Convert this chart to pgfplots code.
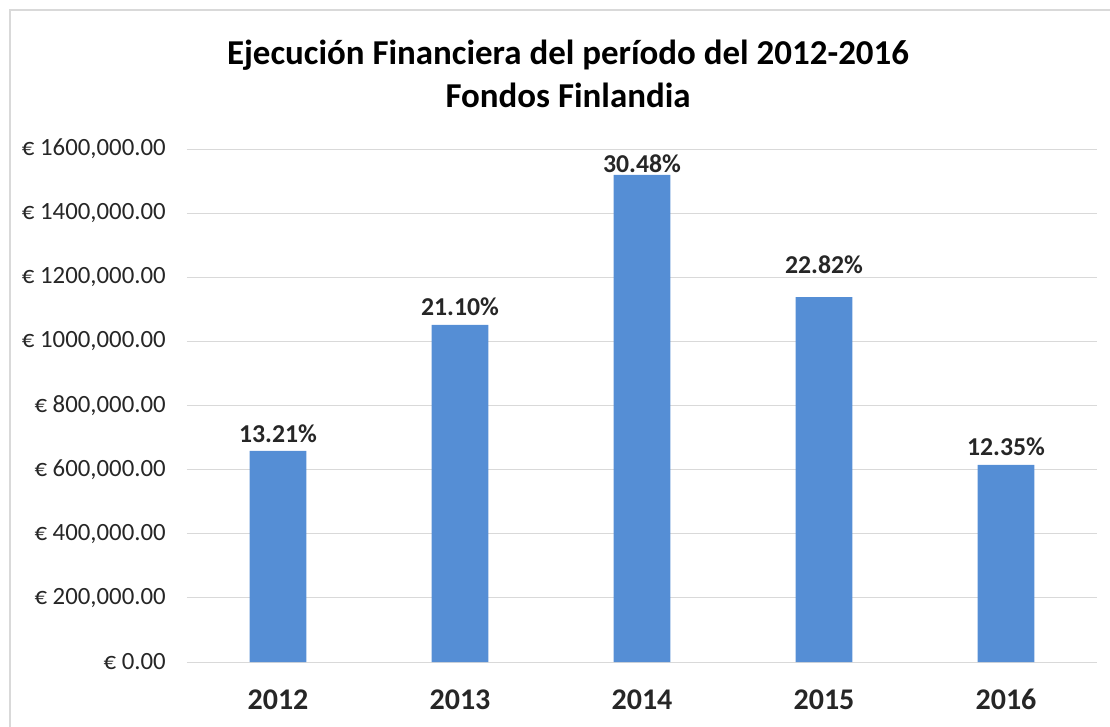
\documentclass[border=0pt]{standalone}
\usepackage{fontspec}
\setmainfont{Carlito}
\usepackage{pgfplots}
\usepackage{pgfplotstable}
\pgfplotsset{compat=1.18}
\definecolor{barblue}{RGB}{85,142,213}
\definecolor{gridgray}{RGB}{217,217,217}
\definecolor{labgray}{RGB}{38,38,38}
\pgfplotstableread{
x y label dy
0 658300 13.21 6
1 1051500 21.10 6.75
2 1519000 30.48 1.5
3 1138000 22.82 18
4 614700 12.35 6.75
}\datatab
\begin{document}
\begin{tikzpicture}
\path[use as bounding box] (0,0) rectangle (832.5pt,544.5pt);
\draw[gridgray, line width=1.5pt] (7.5pt,-1pt) -- (7.5pt,537pt) -- (834pt,537pt);
\node[anchor=base, font=\bfseries\fontsize{26.2}{26.2}\selectfont] at (426pt,495.75pt) {Ejecución Financiera del período del 2012-2016};
\node[anchor=base, font=\bfseries\fontsize{26.2}{26.2}\selectfont] at (426pt,463.5pt) {Fondos Finlandia};
\begin{axis}[
  at={(140.25pt,48pt)}, anchor=south west, scale only axis,
  width=682.5pt, height=384.75pt,
  xmin=-0.5, xmax=4.5, ymin=0, ymax=1600000,
  ybar, bar width=0.313,
  axis line style={draw=none}, major tick length=0pt,
  ymajorgrids, grid style={gridgray, line width=0.75pt},
  xtick={0,1,2,3,4}, xticklabels={2012,2013,2014,2015,2016},
  ytick={0,200000,400000,600000,800000,1000000,1200000,1400000,1600000},
  yticklabels={{€ 0.00},{€ 200,000.00},{€ 400,000.00},{€ 600,000.00},{€ 800,000.00},{€ 1000,000.00},{€ 1200,000.00},{€ 1400,000.00},{€ 1600,000.00}},
  yticklabel style={font=\fontsize{18.6}{18.6}\selectfont, text=labgray, anchor=east, inner sep=0pt, xshift=-15.75pt},
  xticklabel style={font=\bfseries\fontsize{22.5}{22.5}\selectfont, text=labgray, anchor=base, inner sep=0pt, yshift=-35.25pt},
  scaled y ticks=false,
  clip=false,
  point meta=explicit symbolic,
  visualization depends on={\thisrow{dy} \as \dy},
  nodes near coords={\pgfplotspointmeta\%},
  nodes near coords style={font=\bfseries\fontsize{19.3}{19.3}\selectfont, text=labgray, anchor=base, inner sep=0pt, yshift=\dy pt},
]
\addplot[fill=barblue, draw=none] table[x=x, y=y, meta=label] {\datatab};
\end{axis}
\end{tikzpicture}
\end{document}
